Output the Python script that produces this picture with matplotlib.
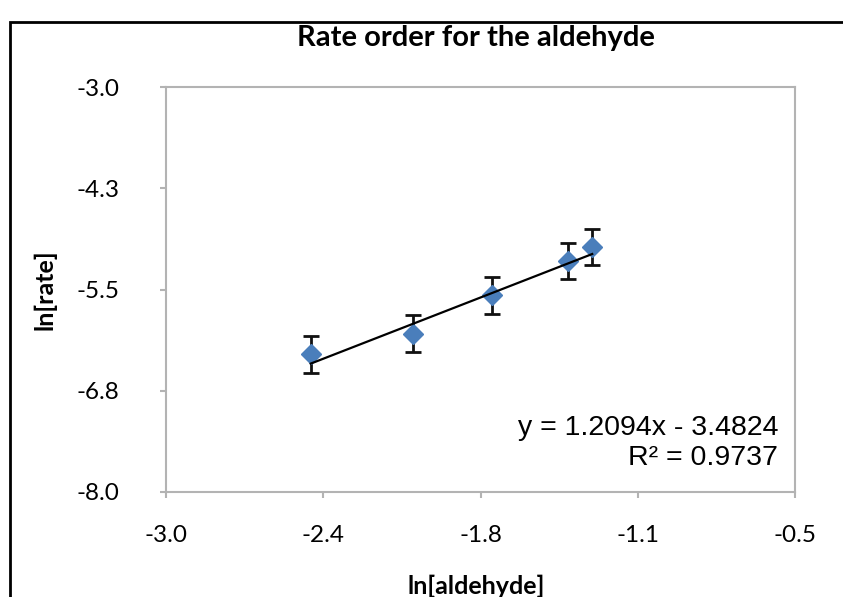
import matplotlib
matplotlib.use("Agg")
import matplotlib.pyplot as plt
from matplotlib.patches import Rectangle

ln_aldehyde = [-2.425, -2.019, -1.704, -1.403, -1.306]
ln_rate = [-6.30, -6.045, -5.572, -5.147, -4.975]
err = [0.225, 0.225, 0.225, 0.225, 0.225]
slope, intercept = 1.2094, -3.4824
r2 = 0.9737
xticks = [-3.0, -2.375, -1.75, -1.125, -0.5]
xticklabels = ["-3.0", "-2.4", "-1.8", "-1.1", "-0.5"]
yticks = [-3.0, -4.25, -5.5, -6.75, -8.0]
yticklabels = ["-3.0", "-4.3", "-5.5", "-6.8", "-8.0"]

W, H = 843, 597
fig = plt.figure(figsize=(W / 100, H / 100), dpi=100)
fig.patch.set_facecolor("white")
font = ["Lato", "DejaVu Sans"]

# outer chart frame
fig.add_artist(Rectangle((10 / W, -0.1), 1.2, 1 - 22 / H + 0.1, transform=fig.transFigure,
                         fill=False, edgecolor="black", linewidth=2))

ax = fig.add_axes([166 / W, 1 - 492 / H, (795 - 166) / W, (492 - 87) / H])
ax.set_xlim(-3.0, -0.5)
ax.set_ylim(-8.0, -3.0)

xs = [min(ln_aldehyde), max(ln_aldehyde)]
ax.errorbar(ln_aldehyde, ln_rate, yerr=err, fmt="D", color="#4a7ebb", markersize=10,
            ecolor="#111111", elinewidth=2, capsize=6, capthick=2, zorder=3)
ax.plot(xs, [slope * v + intercept for v in xs], color="black", linewidth=1.6, zorder=4)

ax.set_xticks(xticks)
ax.set_xticklabels(xticklabels)
ax.set_yticks(yticks)
ax.set_yticklabels(yticklabels)
for s in ax.spines.values():
    s.set_color("#b3b3b3")
    s.set_linewidth(1.5)
ax.tick_params(direction="out", length=4.5, width=1.5, color="#b3b3b3",
               labelsize=17.5)
ax.tick_params(axis="y", pad=29)
ax.tick_params(axis="x", pad=19.5)
for lab in ax.get_xticklabels() + ax.get_yticklabels():
    lab.set_family(font)

eqfont = ["Liberation Sans", "DejaVu Sans"]
ax.text(0.973, 0.158, f"y = {slope}x - {abs(intercept)}", transform=ax.transAxes,
        ha="right", va="center", fontsize=20.5, family=eqfont)
ax.text(0.973, 0.084, f"R² = {r2}", transform=ax.transAxes,
        ha="right", va="center", fontsize=20.5, family=eqfont)

fig.text(476 / W, 1 - 38 / H, "Rate order for the aldehyde", ha="center", va="center",
         fontsize=21, fontweight="bold", family=font)
fig.text(476 / W, 1 - 586 / H, "ln[aldehyde]", ha="center", va="center",
         fontsize=18, fontweight="bold", family=font)
fig.text(45 / W, 1 - 290 / H, "ln[rate]", ha="center", va="center", rotation=90,
         fontsize=18, fontweight="bold", family=font)

fig.savefig("out.png", dpi=100)
